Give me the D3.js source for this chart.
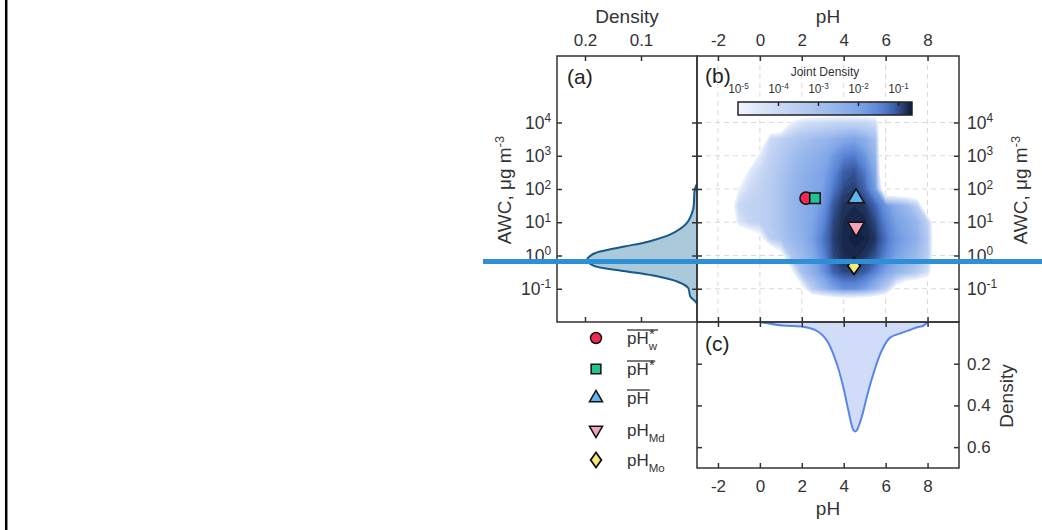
<!DOCTYPE html>
<html>
<head>
<meta charset="utf-8">
<script src="https://cdn.jsdelivr.net/npm/d3@7"></script>
<style>
  body { margin: 0; background: #fff; }
  svg { display: block; font-family: "Liberation Sans", Arial, sans-serif; }
</style>
</head>
<body>
<svg id="svg" width="1042" height="530"></svg>
<script>
// tick values
var phTicks = [-2, 0, 2, 4, 6, 8];
var awcTicks = [1e-1, 1e0, 1e1, 1e2, 1e3, 1e4];
var densATicks = [0.2, 0.1];
var densCTicks = [0.2, 0.4, 0.6];
var jointTicks = [1e-5, 1e-4, 1e-3, 1e-2, 1e-1];

// (a) marginal density of AWC (log10 AWC)
var awcLogA = [2.15, 1.98, 1.38, 0.98, 0.68, 0.43, 0.27, 0.12, 0.02, -0.12, -0.3, -0.45, -0.6, -0.78, -0.97, -1.23, -1.38, -1.45];
var densA = [0, 0.004, 0.007, 0.018, 0.042, 0.084, 0.13, 0.173, 0.188, 0.196, 0.186, 0.137, 0.078, 0.036, 0.016, 0.012, 0.003, 0];

// (c) marginal density of pH
var phC = [0, 1.1, 2.0, 2.7, 3.2, 3.67, 3.98, 4.22, 4.46, 4.55, 4.62, 4.86, 5.1, 5.41, 5.81, 6.21, 6.84, 7.48, 7.8, 8.0];
var densC = [0, 0.017, 0.022, 0.041, 0.089, 0.2, 0.312, 0.423, 0.518, 0.525, 0.52, 0.455, 0.36, 0.25, 0.138, 0.075, 0.05, 0.026, 0.018, 0];

// (b) joint density, log10 values; columns = gridPH, rows = gridLogAWC
var gridPH = [-2, -1.5, -1, -0.5, 0, 0.5, 1, 1.5, 2, 2.5, 3, 3.5, 4, 4.5, 5, 5.5, 6, 6.5, 7, 7.5, 8, 8.5, 9];
var gridLogAWC = [4.5, 4, 3.5, 3, 2.5, 2, 1.5, 1, 0.5, 0, -0.5, -1, -1.5];
var jointLog = [
  [-7,-7,-7,-7,-7,-7,-7,-7,-7,-7,-7,-7,-7,-7,-7,-7,-7,-7,-7,-7,-7,-7,-7],
  [-7,-7,-7,-7,-7,-7,-7,-4.9,-4.3,-4.1,-4.0,-3.9,-3.8,-3.8,-3.9,-4.1,-7,-7,-7,-7,-7,-7,-7],
  [-7,-7,-7,-7,-7,-4.0,-3.6,-3.3,-3.0,-2.8,-2.6,-2.4,-2.1,-2.0,-2.3,-2.9,-9,-7,-7,-7,-7,-7,-7],
  [-7,-7,-7,-7,-4.6,-3.7,-3.3,-2.9,-2.6,-2.4,-2.2,-1.8,-1.4,-1.3,-1.7,-2.5,-9,-7,-7,-7,-7,-7,-7],
  [-7,-7,-7,-4.5,-3.9,-3.5,-3.1,-2.7,-2.4,-2.2,-2.0,-1.5,-1.05,-0.95,-1.3,-2.1,-9,-7,-7,-7,-7,-7,-7],
  [-7,-7,-4.9,-4.0,-3.7,-3.4,-3.0,-2.6,-2.3,-2.1,-1.9,-1.3,-0.9,-0.85,-1.1,-1.8,-7,-7,-7,-7,-7,-7,-7],
  [-7,-6.2,-3.9,-3.7,-3.6,-3.4,-3.0,-2.6,-2.3,-2.1,-1.7,-1.0,-0.78,-0.75,-0.8,-1.1,-1.7,-2.3,-2.7,-3.6,-7,-7,-7],
  [-7,-7,-4.4,-3.8,-3.6,-3.4,-3.0,-2.6,-2.3,-2.0,-1.5,-0.9,-0.74,-0.7,-0.72,-0.9,-1.4,-1.9,-2.2,-2.6,-3.6,-7,-7],
  [-7,-7,-7,-6.5,-5.6,-3.6,-3.1,-2.7,-2.4,-1.9,-1.3,-0.85,-0.72,-0.68,-0.7,-0.8,-1.2,-1.7,-2.0,-2.4,-3.3,-7,-7],
  [-7,-7,-7,-7,-7,-7,-5.6,-3.2,-2.7,-2.2,-1.5,-0.9,-0.75,-0.72,-0.78,-0.95,-1.4,-1.9,-2.3,-2.7,-3.4,-7,-7],
  [-7,-7,-7,-7,-7,-7,-7,-5.4,-3.0,-2.4,-1.7,-1.1,-0.9,-0.88,-1.05,-1.4,-2.0,-2.5,-2.9,-3.4,-4.2,-7,-7],
  [-7,-7,-7,-7,-7,-7,-7,-7,-5.5,-3.5,-2.7,-2.0,-1.6,-1.6,-1.9,-2.6,-3.5,-5.6,-7,-7,-7,-7,-7],
  [-7,-7,-7,-7,-7,-7,-7,-7,-7,-8,-8,-8,-8,-8,-8,-8,-8,-7,-7,-7,-7,-7,-7]
];

// summary statistics
var statPH = [2.2, 2.63, 4.59, 4.59, 4.49];
var statAWC = [53, 53, 53, 7.2, 0.49];

var svg = d3.select("svg");
var ink = "#333";

var xB = d3.scaleLinear().domain([-3, 9.5]).range([697, 959]);
var yB = d3.scaleLog().domain([1e-2, 1e6]).range([322, 56]);
var xA = d3.scaleLinear().domain([0.25, 0]).range([557, 697]);
var yC = d3.scaleLinear().domain([0, 0.7]).range([322, 468]);
var cbX = d3.scaleLog().domain([1e-5, Math.pow(10, -0.65)]).range([738, 912]);

var color = d3.scaleLinear()
    .domain([-5, -4, -3, -2, -1.4, -1.0, -0.8, -0.65])
    .range(["#f1f5fd", "#cbdaf5", "#a8c2ef", "#7ea5e7", "#5882d4", "#35569a", "#1f3158", "#0b1736"])
    .clamp(true);

// left border line of the page
svg.append("line")
    .attr("x1", 6.2).attr("x2", 6.2).attr("y1", 0).attr("y2", 530)
    .attr("stroke", "#000").attr("stroke-width", 2.5);

// grid in (b)
var grid = svg.append("g").attr("stroke", "#d9d9d9").attr("stroke-dasharray", "5,4");
grid.selectAll(".gx").data(phTicks).enter().append("line")
    .attr("x1", function (d) { return xB(d); }).attr("x2", function (d) { return xB(d); })
    .attr("y1", 56).attr("y2", 322);
grid.selectAll(".gy").data(awcTicks).enter().append("line")
    .attr("y1", function (d) { return yB(d); }).attr("y2", function (d) { return yB(d); })
    .attr("x1", 697).attr("x2", 959);

// joint density contours
svg.append("clipPath").attr("id", "clipB").append("rect")
    .attr("x", 697).attr("y", 56).attr("width", 262).attr("height", 266);

var nx = gridPH.length, ny = gridLogAWC.length;
var flat = [];
jointLog.forEach(function (row) { row.forEach(function (v) { flat.push(v); }); });
var stepPH = gridPH[1] - gridPH[0];
var stepLog = gridLogAWC[0] - gridLogAWC[1];
var proj = d3.geoTransform({
    point: function (gx, gy) {
        var ph = gridPH[0] + (gx - 0.5) * stepPH;
        var lg = gridLogAWC[0] - (gy - 0.5) * stepLog;
        this.stream.point(xB(ph), yB(Math.pow(10, lg)));
    }
});
var contours = d3.contours().size([nx, ny]).thresholds(d3.range(-5, -0.65, 0.05))(flat);
svg.append("g").attr("clip-path", "url(#clipB)")
    .selectAll("path").data(contours).enter().append("path")
    .attr("d", d3.geoPath(proj))
    .attr("fill", function (d) { return color(d.value); });

// marginal (a)
var areaA = d3.area()
    .y(function (d, i) { return yB(Math.pow(10, awcLogA[i])); })
    .x0(xA(0))
    .x1(function (d) { return xA(d); })
    .curve(d3.curveCatmullRom);
svg.append("path").datum(densA).attr("d", areaA)
    .attr("fill", "#aac9da").attr("stroke", "none");
svg.append("path").datum(densA).attr("d", areaA.lineX1())
    .attr("fill", "none").attr("stroke", "#17598a").attr("stroke-width", 2);

// marginal (c)
var areaC = d3.area()
    .x(function (d, i) { return xB(phC[i]); })
    .y0(yC(0))
    .y1(function (d) { return yC(d); })
    .curve(d3.curveCatmullRom);
svg.append("path").datum(densC).attr("d", areaC)
    .attr("fill", "#d1ddf8").attr("stroke", "none");
svg.append("path").datum(densC).attr("d", areaC.lineY1())
    .attr("fill", "none").attr("stroke", "#5a86ea").attr("stroke-width", 2);

// axes
function styleAxis(g, size) {
    g.select(".domain").remove();
    g.attr("font-family", null).attr("font-size", size).style("color", ink);
    g.selectAll("line").attr("stroke-width", 1.5);
}
function powLabels(g) {
    g.selectAll("text").each(function (d) {
        var t = d3.select(this);
        t.text(null);
        t.append("tspan").text("10");
        t.append("tspan").attr("dy", "-0.55em").attr("font-size", "0.68em")
            .text(Math.round(Math.log10(d)));
    });
}
var none = function () { return ""; };
var plain = function (d) { return String(d); };

svg.append("g").attr("transform", "translate(0,56)")
    .call(d3.axisTop(xA).tickValues(densATicks).tickSize(-5).tickPadding(10).tickFormat(plain))
    .call(styleAxis, 17);
svg.append("g").attr("transform", "translate(0,322)")
    .call(d3.axisBottom(xA).tickValues(densATicks).tickSize(-5).tickFormat(none))
    .call(styleAxis, 17);
svg.append("g").attr("transform", "translate(557,0)")
    .call(d3.axisLeft(yB).tickValues(awcTicks).tickSize(-5).tickPadding(6))
    .call(styleAxis, 17.5).call(powLabels);
svg.append("g").attr("transform", "translate(697,0)")
    .call(d3.axisRight(yB).tickValues(awcTicks).tickSize(-5).tickFormat(none))
    .call(styleAxis, 16);
svg.append("g").attr("transform", "translate(697,0)")
    .call(d3.axisLeft(yB).tickValues(awcTicks).tickSize(-5).tickFormat(none))
    .call(styleAxis, 16);
svg.append("g").attr("transform", "translate(959,0)")
    .call(d3.axisRight(yB).tickValues(awcTicks).tickSize(-5).tickPadding(8))
    .call(styleAxis, 17.5).call(powLabels);
svg.append("g").attr("transform", "translate(0,56)")
    .call(d3.axisTop(xB).tickValues(phTicks).tickSize(-5).tickPadding(10).tickFormat(plain))
    .call(styleAxis, 17);
svg.append("g").attr("transform", "translate(0,322)")
    .call(d3.axisBottom(xB).tickValues(phTicks).tickSize(-5).tickFormat(none))
    .call(styleAxis, 17);
svg.append("g").attr("transform", "translate(0,322)")
    .call(d3.axisTop(xB).tickValues(phTicks).tickSize(-5).tickFormat(none))
    .call(styleAxis, 17);
svg.append("g").attr("transform", "translate(0,468)")
    .call(d3.axisBottom(xB).tickValues(phTicks).tickSize(-5).tickPadding(12).tickFormat(plain))
    .call(styleAxis, 17);
svg.append("g").attr("transform", "translate(697,0)")
    .call(d3.axisLeft(yC).tickValues(densCTicks).tickSize(-5).tickFormat(none))
    .call(styleAxis, 17);
svg.append("g").attr("transform", "translate(959,0)")
    .call(d3.axisRight(yC).tickValues(densCTicks).tickSize(-5).tickPadding(8).tickFormat(plain))
    .call(styleAxis, 17);

// panel frames
var frames = [[557, 56, 697, 322], [697, 56, 959, 322], [697, 322, 959, 468]];
svg.selectAll(".frame").data(frames).enter().append("rect")
    .attr("x", function (d) { return d[0]; }).attr("y", function (d) { return d[1]; })
    .attr("width", function (d) { return d[2] - d[0]; })
    .attr("height", function (d) { return d[3] - d[1]; })
    .attr("fill", "none").attr("stroke", ink).attr("stroke-width", 1.5);

// titles
function title(x, y, txt, rot, sup) {
    var t = svg.append("text")
        .attr("transform", "translate(" + x + "," + y + ")" + (rot ? " rotate(-90)" : ""))
        .attr("text-anchor", "middle").attr("font-size", 19).attr("fill", ink);
    t.append("tspan").text(txt);
    if (sup) t.append("tspan").attr("dy", "-0.55em").attr("font-size", "0.68em").text(sup);
}
title(627, 23, "Density");
title(828, 23, "pH");
title(828, 515, "pH");
title(511, 190, "AWC, \u03bcg m", true, "-3");
title(1027, 190, "AWC, \u03bcg m", true, "-3");
title(1013, 396, "Density", true);

[["(a)", 567, 84], ["(b)", 705, 83], ["(c)", 705, 351]].forEach(function (p) {
    svg.append("text").attr("x", p[1]).attr("y", p[2]).attr("font-size", 21)
        .attr("fill", "#222").text(p[0]);
});

// colorbar
var defs = svg.append("defs");
var grad = defs.append("linearGradient").attr("id", "cbGrad");
d3.range(0, 1.0001, 0.05).forEach(function (f) {
    var lg = Math.log10(cbX.invert(738 + f * 174));
    grad.append("stop").attr("offset", f).attr("stop-color", color(lg));
});
svg.append("rect").attr("x", 738).attr("y", 102).attr("width", 174).attr("height", 13)
    .attr("fill", "url(#cbGrad)").attr("stroke", "#222").attr("stroke-width", 1.5);
svg.append("g").attr("transform", "translate(0,102)")
    .call(d3.axisTop(cbX).tickValues(jointTicks).tickSize(-4).tickPadding(9))
    .call(styleAxis, 12).call(powLabels)
    .call(function (g) {
        g.selectAll("line").attr("stroke", "#222").filter(function (d) { return d === 1e-5; }).remove();
    });
svg.append("text").attr("x", 825).attr("y", 76).attr("text-anchor", "middle")
    .attr("font-size", 12).attr("fill", ink).text("Joint Density");

// markers
var symbols = [d3.symbolCircle, d3.symbolSquare, d3.symbolTriangle, d3.symbolTriangle, d3.symbolDiamond];
var sizes = [115, 110, 115, 115, 85];
var legendSizes = [95, 95, 75, 75, 65];
var fills = ["#ef2a52", "#20c393", "#5fb5ef", "#f4a3b6", "#f4ea7a"];
var shapeTf = ["", "", "", " rotate(180)", " scale(1.25,1)"];
svg.selectAll(".stat").data(statPH).enter().append("path")
    .attr("transform", function (d, i) {
        return "translate(" + xB(d) + "," + yB(statAWC[i]) + ")" + shapeTf[i];
    })
    .attr("d", function (d, i) { return d3.symbol(symbols[i], sizes[i])(); })
    .attr("fill", function (d, i) { return fills[i]; })
    .attr("stroke", "#111").attr("stroke-width", 1.5);

// legend
var legendY = [338, 369, 398, 430, 460];
var legendLabels = [
    { sup: "*", sub: "w", bar: true },
    { sup: "*", sub: "", bar: true },
    { sup: "", sub: "", bar: true },
    { sup: "", sub: "Md", bar: false },
    { sup: "", sub: "Mo", bar: false }
];
legendY.forEach(function (y, i) {
    svg.append("path")
        .attr("transform", "translate(596," + y + ")" + shapeTf[i])
        .attr("d", d3.symbol(symbols[i], legendSizes[i])())
        .attr("fill", fills[i]).attr("stroke", "#111").attr("stroke-width", 1.5);
    var lab = legendLabels[i];
    var base = svg.append("text").attr("x", 627).attr("y", y + 6)
        .attr("font-size", 17).attr("fill", ink).text("pH");
    var w = base.node().getComputedTextLength();
    var end = 627 + w;
    if (lab.sup) {
        var s = svg.append("text").attr("x", 627 + w + 0.5).attr("y", y + 1)
            .attr("font-size", 14).attr("fill", ink).text(lab.sup);
        end = Math.max(end, 627 + w + s.node().getComputedTextLength());
    }
    if (lab.sub) {
        var b = svg.append("text").attr("x", 627 + w).attr("y", y + 12)
            .attr("font-size", 11.5).attr("fill", ink).text(lab.sub);
        end = Math.max(end, 627 + w + b.node().getComputedTextLength());
    }
    if (lab.bar) {
        svg.append("line").attr("x1", 627).attr("x2", end + 1)
            .attr("y1", y - 8).attr("y2", y - 8)
            .attr("stroke", ink).attr("stroke-width", 1.3);
    }
});

// blue horizontal line across the figure
svg.append("line")
    .attr("x1", 483).attr("x2", 1042).attr("y1", 261.5).attr("y2", 261.5)
    .attr("stroke", "#2e90d4").attr("stroke-width", 5);
</script>
</body>
</html>
